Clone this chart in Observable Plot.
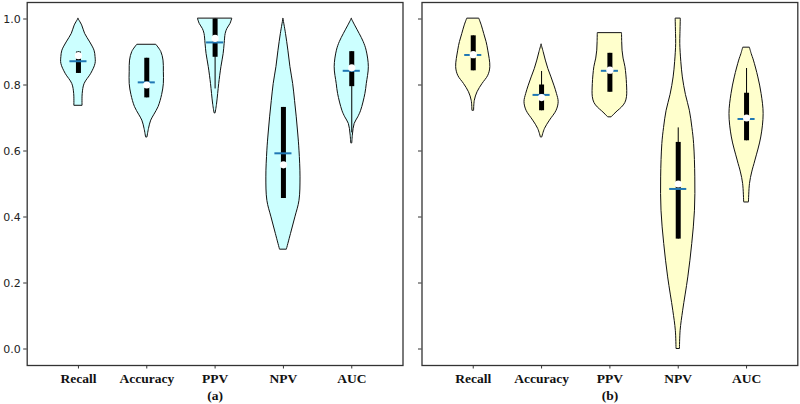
<!DOCTYPE html>
<html>
<head>
<meta charset="utf-8">
<script src="https://cdn.jsdelivr.net/npm/d3@7"></script>
<script src="https://cdn.jsdelivr.net/npm/@observablehq/plot@0.6"></script>
<style>
  html, body { margin: 0; padding: 0; background: #fff; }
  #wrap { position: relative; width: 800px; height: 404px; overflow: hidden; }
  #wrap svg { position: absolute; top: 0; }
</style>
</head>
<body>
<div id="wrap"></div>
<script>
// ---------- data ----------
const metrics = ["Recall", "Accuracy", "PPV", "NPV", "AUC"];
const yTicks = [0, 0.2, 0.4, 0.6, 0.8, 1.0];
const panelLabels = ["(a)", "(b)"];

// violin outlines: [value, relative half-width (1 = widest)] per metric
const violinA = [
  [[1.0,0],[0.98,0.22],[0.955,0.39],[0.929,0.69],[0.904,0.94],[0.885,1.0],[0.864,1.0],[0.834,0.75],[0.803,0.36],[0.773,0.25],[0.737,0.24]],
  [[0.921,0.57],[0.90,0.85],[0.874,0.98],[0.84,1.0],[0.803,1.0],[0.77,0.9],[0.733,0.69],[0.71,0.45],[0.692,0.26],[0.667,0.13],[0.641,0.04]],
  [[1.0,1.0],[0.985,0.9],[0.97,0.72],[0.955,0.62],[0.925,0.56],[0.894,0.5],[0.854,0.37],[0.803,0.24],[0.773,0.18],[0.74,0.11],[0.714,0.03]],
  [[1.0,0],[0.955,0.15],[0.904,0.29],[0.854,0.41],[0.803,0.57],[0.752,0.68],[0.702,0.78],[0.65,0.87],[0.601,0.94],[0.52,1.0],[0.449,0.94],[0.399,0.7],[0.348,0.44],[0.301,0.2]],
  [[1.0,0],[0.98,0.2],[0.955,0.46],[0.93,0.7],[0.904,0.87],[0.854,1.0],[0.803,0.88],[0.773,0.8],[0.722,0.55],[0.702,0.38],[0.682,0.17],[0.65,0.07],[0.623,0.03]]
];
const violinB = [
  [[1.0,0.36],[0.98,0.5],[0.955,0.64],[0.93,0.78],[0.904,0.88],[0.854,1.0],[0.828,0.88],[0.803,0.54],[0.778,0.25],[0.752,0.09],[0.722,0.05]],
  [[0.922,0],[0.9,0.12],[0.874,0.25],[0.848,0.4],[0.823,0.58],[0.798,0.75],[0.773,0.9],[0.748,1.0],[0.722,0.88],[0.692,0.49],[0.667,0.2],[0.641,0.04]],
  [[0.956,0.71],[0.93,0.72],[0.904,0.74],[0.88,0.8],[0.854,0.91],[0.803,1.0],[0.763,1.0],[0.745,0.9],[0.732,0.71],[0.72,0.45],[0.71,0.25],[0.702,0.1]],
  [[1.0,0.15],[0.955,0.13],[0.924,0.12],[0.87,0.18],[0.823,0.27],[0.77,0.45],[0.722,0.68],[0.67,0.83],[0.621,0.93],[0.52,1.0],[0.419,0.98],[0.318,0.82],[0.217,0.59],[0.116,0.29],[0.055,0.14],[0.0,0.1]],
  [[0.912,0.2],[0.894,0.3],[0.874,0.43],[0.823,0.69],[0.773,0.88],[0.712,1.0],[0.641,0.86],[0.571,0.52],[0.535,0.33],[0.5,0.2],[0.444,0.14]]
];

// box statistics
const q1A = [0.835, 0.761, 0.884, 0.456, 0.795];
const q3A = [0.900, 0.881, 1.000, 0.732, 0.901];
const whiskerLoA = [0.835, 0.761, 0.788, 0.456, 0.655];
const whiskerHiA = [0.900, 0.881, 1.000, 0.732, 0.901];
const medianA = [0.889, 0.800, 0.941, 0.558, 0.852];
const meanA = [0.872, 0.808, 0.929, 0.593, 0.843];

const q1B = [0.843, 0.722, 0.778, 0.333, 0.631];
const q3B = [0.949, 0.800, 0.896, 0.626, 0.775];
const whiskerLoB = [0.843, 0.722, 0.778, 0.333, 0.631];
const whiskerHiB = [0.949, 0.841, 0.896, 0.670, 0.850];
const medianB = [0.892, 0.762, 0.845, 0.500, 0.700];
const meanB = [0.891, 0.770, 0.843, 0.485, 0.697];

// ---------- drawing ----------
const HALF = 0.25;     // violin max half-width in category units
const MEANHALF = 0.125;

function panel({violin, q1, q3, wlo, whi, median, mean, fill, label, left, width, marginLeft, marginRight, showYLabels}) {
  const outline = [];
  violin.forEach((prof, i) => {
    prof.forEach(([v, w]) => outline.push({pos: i + 1, v, x1: i + 1 - HALF * w, x2: i + 1 + HALF * w}));
  });
  const stats = metrics.map((m, i) => ({
    pos: i + 1, q1: q1[i], q3: q3[i], lo: wlo[i], hi: whi[i], med: median[i], mean: mean[i],
    m1: i + 1 - MEANHALF, m2: i + 1 + MEANHALF
  }));
  const svg = Plot.plot({
    width, height: 404,
    marginLeft, marginRight, marginTop: 2, marginBottom: 39,
    style: {fontFamily: "DejaVu Sans", fontSize: "11px", color: "#222", background: "transparent", overflow: "visible"},
    x: {domain: [0.25, 5.75], axis: null},
    y: {domain: [-0.05, 1.05], axis: null},
    marks: [
      Plot.areaX(outline, {y: "v", x1: "x1", x2: "x2", z: "pos", fill, stroke: "#111", strokeWidth: 1, curve: "catmull-rom"}),
      Plot.ruleX(stats, {x: "pos", y1: "lo", y2: "hi", stroke: "#000", strokeWidth: 1}),
      Plot.ruleX(stats, {x: "pos", y1: "q1", y2: "q3", stroke: "#000", strokeWidth: 5}),
      Plot.ruleY(stats, {y: "mean", x1: "m1", x2: "m2", stroke: "#1f77b4", strokeWidth: 2}),
      Plot.dot(stats, {x: "pos", y: "med", r: 3.6, fill: "#fff", stroke: "none"}),
      Plot.frame({stroke: "#333", strokeWidth: 1.3}),
      Plot.axisY({
        ticks: yTicks, tickSize: 3.5, tickPadding: 3, stroke: "#333",
        tickFormat: showYLabels ? d3.format(".1f") : () => "",
        label: null, fontSize: 11, fontFamily: "DejaVu Sans"
      }),
      Plot.axisX({
        ticks: [1, 2, 3, 4, 5], tickSize: 3.5, tickPadding: 4, stroke: "#333",
        tickFormat: d => metrics[d - 1], label: null,
        fontFamily: "Liberation Serif", fontWeight: "bold", fontSize: 13.5, fill: "#111"
      }),
      Plot.text([label], {frameAnchor: "bottom", dy: 30, text: d => d, lineAnchor: "middle",
        fontFamily: "Liberation Serif", fontWeight: "bold", fontSize: 13.5, fill: "#111"})
    ]
  });
  svg.style.left = left + "px";
  return svg;
}

const wrap = document.getElementById("wrap");
wrap.appendChild(panel({
  violin: violinA, q1: q1A, q3: q3A, wlo: whiskerLoA, whi: whiskerHiA, median: medianA, mean: meanA,
  fill: "#ccffff", label: panelLabels[0], left: 0, width: 405, marginLeft: 26.7, marginRight: 2.5, showYLabels: true
}));
wrap.appendChild(panel({
  violin: violinB, q1: q1B, q3: q3B, wlo: whiskerLoB, whi: whiskerHiB, median: medianB, mean: meanB,
  fill: "#ffffcc", label: panelLabels[1], left: 400, width: 400, marginLeft: 21.5, marginRight: 2.7, showYLabels: false
}));
</script>
</body>
</html>
